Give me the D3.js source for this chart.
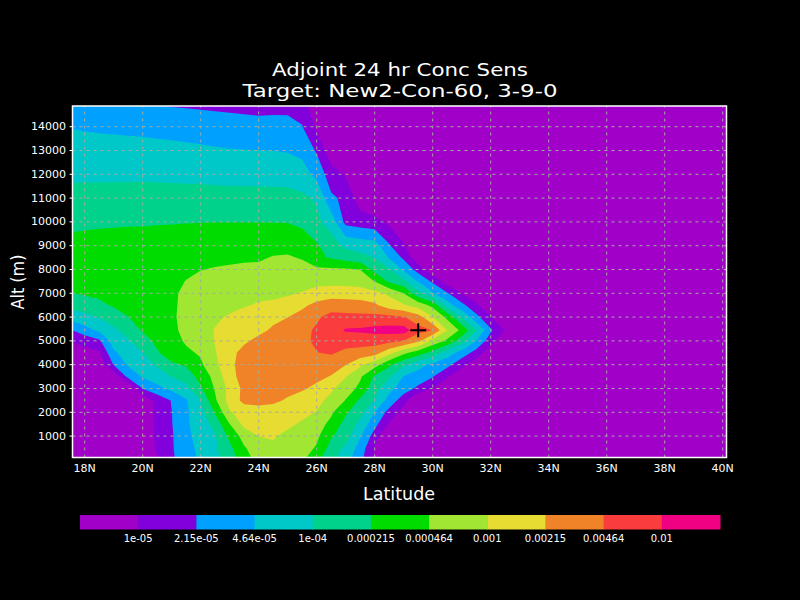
<!DOCTYPE html>
<html><head><meta charset="utf-8">
<script src="https://cdn.jsdelivr.net/npm/d3@7"></script>
<style>html,body{margin:0;background:#000;}svg{display:block;}</style>
</head><body>
<svg id="chart" width="800" height="600"></svg>
<script>
// ---- data ----
const latitudes = [17.5,18,18.5,19,19.5,20,20.5,21,21.5,22,22.5,23,23.5,24,24.5,25,25.5,26,26.5,27,27.5,28,28.5,29,29.5,30,30.5,31,31.5,32,32.5,33];
const altitudes = [0,500,1000,1500,2000,2500,3000,3500,4000,4500,5000,5450,6000,6500,7000,7500,8000,8500,9000,10000,11000,12000,13000,14000,15000];
// log10 of adjoint concentration sensitivity; one row per altitude (ascending), one column per latitude
const log10Sens = [
[-5.266,-5.266,-5.283,-5.3,-5.333,-5.333,-5.033,-4.716,-4.5,-4.283,-4.083,-3.833,-3.5,-3.216,-3.133,-3.166,-3.283,-3.6,-3.9,-4.216,-4.566,-5.1,-5.433,-5.5,-5.5,-5.5,-5.5,-5.5,-5.5,-5.5,-5.5,-5.5],
[-5.266,-5.266,-5.283,-5.3,-5.333,-5.3,-4.95,-4.7,-4.466,-4.233,-4.05,-3.75,-3.366,-3.15,-3.066,-3.1,-3.2,-3.366,-3.8,-4.066,-4.466,-5.016,-5.433,-5.5,-5.5,-5.5,-5.5,-5.5,-5.5,-5.5,-5.5,-5.5],
[-5.266,-5.266,-5.283,-5.3,-5.333,-5.266,-4.933,-4.7,-4.416,-4.2,-4.033,-3.583,-3.2,-2.993,-2.966,-3.083,-3.166,-3.266,-3.633,-3.843,-4.303,-4.806,-5.533,-5.5,-5.5,-5.5,-5.5,-5.5,-5.5,-5.5,-5.5,-5.5],
[-5.266,-5.266,-5.283,-5.3,-5.333,-5.266,-4.916,-4.683,-4.383,-4.166,-3.89,-3.34,-2.913,-2.866,-2.866,-2.933,-3.05,-3.2,-3.416,-3.8,-4.083,-4.566,-5.033,-5.4,-5.5,-5.5,-5.5,-5.5,-5.5,-5.5,-5.5,-5.5],
[-5.266,-5.266,-5.283,-5.3,-5.333,-5.266,-4.916,-4.673,-4.383,-4.1,-3.633,-3.033,-2.85,-2.8,-2.783,-2.833,-2.9,-3.016,-3.283,-3.616,-3.9,-4.35,-4.783,-5.166,-5.433,-5.5,-5.5,-5.5,-5.5,-5.5,-5.5,-5.5],
[-5.266,-5.266,-5.283,-5.3,-5.333,-5.266,-4.9,-4.65,-4.366,-4.006,-3.383,-2.866,-2.58,-2.566,-2.616,-2.7,-2.8,-2.916,-3.083,-3.35,-3.733,-4.016,-4.466,-4.85,-5.466,-5.5,-5.5,-5.5,-5.5,-5.5,-5.5,-5.5],
[-5.266,-5.266,-5.266,-5.3,-5.433,-4.656,-4.426,-4.256,-4.083,-3.716,-3.3,-2.9,-2.583,-2.533,-2.55,-2.583,-2.633,-2.733,-2.95,-3.166,-3.416,-3.883,-4.233,-4.516,-4.733,-5.016,-5.266,-5.433,-5.5,-5.5,-5.5,-5.5],
[-5.266,-5.266,-5.25,-5.233,-4.556,-4.3,-4.166,-3.99,-3.87,-3.53,-3.233,-2.783,-2.53,-2.5,-2.483,-2.5,-2.533,-2.6,-2.683,-2.983,-3.283,-3.716,-3.95,-4.35,-4.483,-4.65,-4.966,-5.233,-5.4,-5.5,-5.5,-5.5],
[-5.233,-5.233,-5.233,-4.65,-4.293,-4.16,-3.956,-3.72,-3.633,-3.383,-3.083,-2.733,-2.55,-2.5,-2.466,-2.466,-2.483,-2.5,-2.55,-2.66,-2.933,-3.2,-3.6,-3.95,-4.216,-4.416,-4.566,-4.9,-5.233,-5.433,-5.5,-5.5],
[-5.15,-5.1,-5.05,-4.386,-4.183,-4.006,-3.706,-3.483,-3.383,-3.3,-3.016,-2.766,-2.566,-2.516,-2.483,-2.45,-2.416,-2.343,-2.293,-2.416,-2.466,-2.533,-2.883,-3.25,-3.5,-3.783,-4.166,-4.466,-4.8,-5.233,-5.433,-5.5],
[-4.983,-4.9,-4.733,-4.183,-4.04,-3.813,-3.583,-3.433,-3.3,-3.166,-2.983,-2.9,-2.716,-2.583,-2.533,-2.466,-2.4,-2.283,-2.2,-2.183,-2.183,-2.2,-2.233,-2.34,-2.6,-3.1,-3.4,-3.866,-4.34,-4.866,-5.333,-5.5],
[-4.7,-4.466,-4.266,-4.066,-3.856,-3.633,-3.533,-3.416,-3.233,-3.133,-2.983,-2.9,-2.833,-2.75,-2.616,-2.533,-2.433,-2.283,-2.15,-1.966,-1.95,-1.9,-1.866,-1.85,-2.213,-2.343,-3.006,-3.416,-3.983,-4.616,-5.033,-5.433],
[-4.216,-4.1,-3.983,-3.833,-3.673,-3.55,-3.466,-3.383,-3.233,-3.133,-3.05,-2.966,-2.883,-2.816,-2.75,-2.673,-2.55,-2.383,-2.233,-2.25,-2.25,-2.243,-2.236,-2.316,-2.533,-2.993,-3.416,-4.016,-4.566,-4.983,-5.4,-5.5],
[-3.91,-3.833,-3.733,-3.633,-3.55,-3.483,-3.433,-3.366,-3.283,-3.183,-3.133,-3.083,-3.026,-2.966,-2.95,-2.883,-2.733,-2.576,-2.483,-2.5,-2.53,-2.606,-2.856,-2.966,-3.133,-3.426,-4.176,-4.566,-4.933,-5.266,-5.433,-5.5],
[-3.676,-3.633,-3.6,-3.56,-3.516,-3.476,-3.426,-3.373,-3.286,-3.2,-3.18,-3.133,-3.093,-3.08,-3.06,-3.033,-2.983,-2.87,-2.823,-2.833,-2.853,-2.92,-3.053,-3.34,-3.9,-4.3,-4.633,-5.016,-5.266,-5.466,-5.466,-5.5],
[-3.533,-3.516,-3.506,-3.493,-3.48,-3.46,-3.433,-3.393,-3.326,-3.266,-3.233,-3.216,-3.2,-3.176,-3.15,-3.12,-3.106,-3.1,-3.103,-3.11,-3.126,-3.34,-3.73,-3.913,-4.35,-4.726,-5.183,-5.4,-5.5,-5.5,-5.5,-5.5],
[-3.466,-3.46,-3.453,-3.446,-3.44,-3.433,-3.42,-3.406,-3.383,-3.34,-3.316,-3.3,-3.283,-3.27,-3.233,-3.213,-3.233,-3.27,-3.283,-3.296,-3.336,-3.77,-3.966,-4.383,-4.813,-5.28,-5.433,-5.5,-5.5,-5.5,-5.5,-5.5],
[-3.483,-3.476,-3.47,-3.466,-3.46,-3.456,-3.45,-3.443,-3.433,-3.416,-3.4,-3.383,-3.373,-3.37,-3.316,-3.306,-3.356,-3.606,-3.7,-3.8,-3.9,-4.006,-4.36,-4.733,-5.246,-5.4,-5.5,-5.5,-5.5,-5.5,-5.5,-5.5],
[-3.55,-3.54,-3.533,-3.526,-3.52,-3.516,-3.513,-3.51,-3.506,-3.506,-3.493,-3.483,-3.476,-3.466,-3.426,-3.416,-3.5,-3.626,-3.85,-4.07,-4.133,-4.18,-4.633,-4.966,-5.383,-5.466,-5.5,-5.5,-5.5,-5.5,-5.5,-5.5],
[-3.76,-3.74,-3.723,-3.713,-3.706,-3.703,-3.693,-3.686,-3.68,-3.673,-3.67,-3.67,-3.67,-3.67,-3.673,-3.68,-3.733,-3.933,-4.133,-4.766,-4.833,-4.883,-5.066,-5.266,-5.433,-5.5,-5.5,-5.5,-5.5,-5.5,-5.5,-5.5],
[-3.903,-3.9,-3.893,-3.886,-3.883,-3.88,-3.88,-3.88,-3.883,-3.883,-3.883,-3.886,-3.886,-3.89,-3.893,-3.896,-3.943,-4.033,-4.61,-4.743,-5.186,-5.333,-5.466,-5.5,-5.5,-5.5,-5.5,-5.5,-5.5,-5.5,-5.5,-5.5],
[-4.053,-4.053,-4.056,-4.056,-4.056,-4.056,-4.063,-4.07,-4.076,-4.08,-4.1,-4.106,-4.11,-4.113,-4.116,-4.126,-4.186,-4.43,-4.853,-5.04,-5.233,-5.4,-5.5,-5.5,-5.5,-5.5,-5.5,-5.5,-5.5,-5.5,-5.5,-5.5],
[-4.196,-4.203,-4.206,-4.213,-4.216,-4.22,-4.233,-4.24,-4.256,-4.273,-4.3,-4.316,-4.323,-4.33,-4.336,-4.356,-4.423,-4.706,-5.23,-5.4,-5.5,-5.5,-5.5,-5.5,-5.5,-5.5,-5.5,-5.5,-5.5,-5.5,-5.5,-5.5],
[-4.343,-4.366,-4.383,-4.393,-4.406,-4.416,-4.436,-4.456,-4.48,-4.5,-4.516,-4.53,-4.546,-4.56,-4.566,-4.583,-4.656,-5.066,-5.266,-5.433,-5.533,-5.533,-5.533,-5.533,-5.533,-5.533,-5.533,-5.533,-5.533,-5.533,-5.533,-5.533],
[-4.516,-4.54,-4.566,-4.6,-4.633,-4.67,-4.693,-4.71,-4.723,-4.736,-4.75,-4.763,-4.78,-4.793,-4.773,-4.76,-4.8,-5.333,-5.5,-5.533,-5.533,-5.533,-5.533,-5.533,-5.533,-5.533,-5.533,-5.533,-5.533,-5.533,-5.533,-5.533]
];
const levelValues = [1e-5, 2.15e-5, 4.64e-5, 1e-4, 2.15e-4, 4.64e-4, 1e-3, 2.15e-3, 4.64e-3, 1e-2];
const levelLabels = ["1e-05","2.15e-05","4.64e-05","1e-04","0.000215","0.000464","0.001","0.00215","0.00464","0.01"];
const fillColors = ["#a000c8","#8200dc","#00a0ff","#00c8c8","#00d28c","#00dc00","#a0e632","#e6dc32","#f08228","#fa3c3c","#f00082"];
const latTicks = [18,20,22,24,26,28,30,32,34,36,38,40];
const altTicks = [1000,2000,3000,4000,5000,6000,7000,8000,9000,10000,11000,12000,13000,14000];
const latExtent = [17.58, 40.13];
const altExtent = [100, 14870];
const target = {lat: 29.5, alt: 5450};
const titleLines = ["Adjoint 24 hr Conc Sens", "Target: New2-Con-60, 3-9-0"];

// ---- drawing ----
const svg = d3.select("#chart");
svg.append("rect").attr("width", 800).attr("height", 600).attr("fill", "#000");
const x = d3.scaleLinear().domain(latExtent).range([72.5, 726.5]);
const y = d3.scaleLinear().domain(altExtent).range([457.5, 106]);

svg.append("defs").append("clipPath").attr("id", "plotClip").append("rect")
  .attr("x", x(latExtent[0])).attr("y", y(altExtent[1]))
  .attr("width", x(latExtent[1]) - x(latExtent[0]))
  .attr("height", y(altExtent[0]) - y(altExtent[1]));

const plot = svg.append("g").attr("clip-path", "url(#plotClip)");
plot.append("rect")
  .attr("x", x(latExtent[0])).attr("y", y(altExtent[1]))
  .attr("width", x(latExtent[1]) - x(latExtent[0]))
  .attr("height", y(altExtent[0]) - y(altExtent[1]))
  .attr("fill", fillColors[0]);

const nx = latitudes.length, ny = altitudes.length;
const values = log10Sens.flat();
const contours = d3.contours().size([nx, ny]).thresholds(levelValues.map(Math.log10))(values);
const latAt = d3.scaleLinear().domain(d3.range(nx)).range(latitudes);
const altAt = d3.scaleLinear().domain(d3.range(ny)).range(altitudes);
const path = d3.geoPath(d3.geoTransform({
  point(px, py) { this.stream.point(x(latAt(px - 0.5)), y(altAt(py - 0.5))); }
}));
plot.selectAll("path.band").data(contours).join("path")
  .attr("class", "band").attr("d", path).attr("fill-rule", "evenodd")
  .attr("fill", (d, i) => fillColors[i + 1]);

// grid
const gridColor = "#a4aca0";
plot.selectAll("line.vg").data(latTicks).join("line").attr("class", "vg")
  .attr("x1", d => x(d)).attr("x2", d => x(d)).attr("y1", y(altExtent[0])).attr("y2", y(altExtent[1]))
  .attr("stroke", gridColor).attr("stroke-width", 1).attr("stroke-dasharray", "3,4");
plot.selectAll("line.hg").data(altTicks).join("line").attr("class", "hg")
  .attr("y1", d => y(d)).attr("y2", d => y(d)).attr("x1", x(latExtent[0])).attr("x2", x(latExtent[1]))
  .attr("stroke", gridColor).attr("stroke-width", 1).attr("stroke-dasharray", "3,4");

// target marker
const tx = x(target.lat), ty = y(target.alt);
svg.append("path").attr("d", `M${tx - 8},${ty}H${tx + 8}M${tx},${ty - 7}V${ty + 7}`)
  .attr("stroke", "#000").attr("stroke-width", 2).attr("fill", "none");

// frame
svg.append("rect")
  .attr("x", x(latExtent[0])).attr("y", y(altExtent[1]))
  .attr("width", x(latExtent[1]) - x(latExtent[0]))
  .attr("height", y(altExtent[0]) - y(altExtent[1]))
  .attr("fill", "none").attr("stroke", "#fff").attr("stroke-width", 1.5);

const font = "DejaVu Sans, sans-serif";
// y ticks
svg.selectAll("line.yt").data(altTicks).join("line").attr("class", "yt")
  .attr("x1", x(latExtent[0]) - 3).attr("x2", x(latExtent[0])).attr("y1", d => y(d)).attr("y2", d => y(d))
  .attr("stroke", "#fff").attr("stroke-width", 1);
svg.selectAll("text.yl").data(altTicks).join("text").attr("class", "yl")
  .attr("x", 66).attr("y", d => y(d)).attr("text-anchor", "end").attr("dominant-baseline", "central")
  .attr("fill", "#fff").attr("font-family", font).attr("font-size", 11).text(d => d);
// x labels
svg.selectAll("text.xl").data(latTicks).join("text").attr("class", "xl")
  .attr("x", d => x(d)).attr("y", 468).attr("text-anchor", "middle").attr("dominant-baseline", "central")
  .attr("fill", "#fff").attr("font-family", font).attr("font-size", 11).text(d => d + "N");

// titles
svg.selectAll("text.title").data(titleLines).join("text").attr("class", "title")
  .attr("x", 400).attr("y", (d, i) => 76 + i * 21).attr("text-anchor", "middle")
  .attr("fill", "#fff").attr("font-family", font).attr("font-size", 18)
  .attr("textLength", (d, i) => i === 0 ? 256 : 315).attr("lengthAdjust", "spacingAndGlyphs")
  .text(d => d);
svg.append("text").attr("x", 399).attr("y", 494).attr("text-anchor", "middle").attr("dominant-baseline", "central")
  .attr("fill", "#fff").attr("font-family", font).attr("font-size", 17)
  .attr("textLength", 72).attr("lengthAdjust", "spacingAndGlyphs").text("Latitude");
svg.append("text").attr("transform", "translate(18,282) rotate(-90)").attr("text-anchor", "middle")
  .attr("dominant-baseline", "central").attr("fill", "#fff").attr("font-family", font).attr("font-size", 17)
  .attr("textLength", 55).attr("lengthAdjust", "spacingAndGlyphs").text("Alt (m)");

// colorbar
const cb = d3.scaleLinear().domain([0, fillColors.length]).range([80, 720]);
svg.selectAll("rect.cb").data(fillColors).join("rect").attr("class", "cb")
  .attr("x", (d, i) => cb(i)).attr("y", 515).attr("width", (d, i) => cb(i + 1) - cb(i) + 0.5).attr("height", 14.5)
  .attr("fill", d => d);
svg.selectAll("text.cbl").data(levelLabels).join("text").attr("class", "cbl")
  .attr("x", (d, i) => cb(i + 1)).attr("y", 538).attr("text-anchor", "middle").attr("dominant-baseline", "central")
  .attr("fill", "#fff").attr("font-family", font).attr("font-size", 10).text(d => d);
</script>
</body></html>
